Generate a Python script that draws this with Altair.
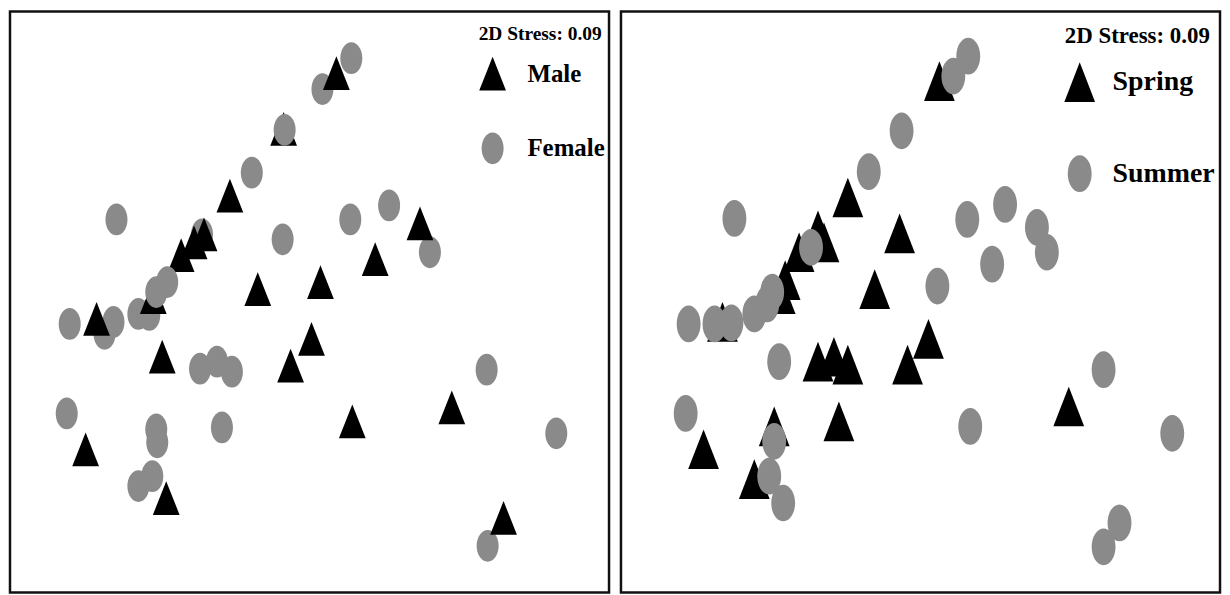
import altair as alt
import pandas as pd

# ---------------- data (NMDS coordinates) ----------------
# Left panel: sex
male_x = [3.30, 2.77, 2.23, 1.74, 1.87, 1.97, 4.14, 3.69, 3.14, 2.51,
          1.46, 0.89, 1.55, 3.05, 2.84, 0.78, 3.46, 4.46, 1.59, 4.98]
male_y = [5.22, 4.66, 3.99, 3.39, 3.52, 3.60, 3.71, 3.35, 3.12, 3.05,
          2.97, 2.75, 2.37, 2.55, 2.28, 1.44, 1.72, 1.86, 0.95, 0.75]
female_x = [3.45, 3.16, 2.78, 2.45, 1.09, 1.95, 2.76, 3.44, 3.83, 4.24,
            1.49, 1.60, 1.31, 1.42, 0.62, 1.06, 0.97, 1.93, 2.10, 2.25,
            4.81, 0.59, 1.49, 1.50, 2.15, 5.51, 1.31, 1.45, 4.82]
female_y = [5.37, 5.06, 4.65, 4.22, 3.75, 3.60, 3.55, 3.75, 3.89, 3.42,
            3.02, 3.12, 2.80, 2.79, 2.70, 2.72, 2.60, 2.25, 2.32, 2.22,
            2.24, 1.80, 1.64, 1.51, 1.66, 1.60, 1.07, 1.17, 0.47]

# Right panel: season
spring_x = [3.16, 2.24, 2.76, 2.51, 1.94, 2.00, 1.75, 1.61, 1.56, 0.98,
            1.94, 2.10, 2.24, 2.84, 3.05, 0.79, 1.50, 1.30, 2.15, 4.46]
spring_y = [5.15, 3.98, 3.62, 3.06, 3.65, 3.53, 3.43, 3.15, 3.01, 2.73,
            2.33, 2.38, 2.30, 2.30, 2.56, 1.45, 1.68, 1.15, 1.73, 1.88]
summer_x = [3.45, 3.30, 2.78, 2.45, 1.10, 3.44, 3.82, 4.14, 4.24, 3.69,
            3.14, 1.87, 1.48, 1.43, 1.30, 0.64, 0.90, 1.07, 1.55, 4.81,
            0.61, 1.50, 1.45, 1.59, 3.47, 5.50, 4.97, 4.81]
summer_y = [5.40, 5.20, 4.65, 4.24, 3.77, 3.76, 3.91, 3.68, 3.43, 3.31,
            3.09, 3.48, 3.03, 2.91, 2.81, 2.71, 2.71, 2.72, 2.33, 2.25,
            1.81, 1.53, 1.18, 0.91, 1.68, 1.61, 0.71, 0.47]

stress_label = "2D Stress: 0.09"
sex_groups = ["Male", "Female"]
season_groups = ["Spring", "Summer"]

FONT = "Liberation Serif"
W, H = 602, 584


def ellipse(rx, ry):
    return f"M{-rx},0 A{rx},{ry} 0 1,0 {rx},0 A{rx},{ry} 0 1,0 {-rx},0 Z"


def triangle(hw, hh):
    return f"M0,{-hh} L{hw},{hh} L{-hw},{hh} Z"


def build_df(tx, ty, cx, cy, groups, tri_z, cir_z, front=()):
    rows = []
    for x, y in zip(tx, ty):
        rows.append({"x": x, "y": y, "group": groups[0], "z": tri_z})
    for i, (x, y) in enumerate(zip(cx, cy)):
        rows.append({"x": x, "y": y, "group": groups[1],
                     "z": 2 if i in front else cir_z})
    return pd.DataFrame(rows)


def panel(df, groups, xdom, ydom, tri_path, cir_path, size, lx, ly, title_fs,
          label_fs, label_off, title_pad, row_pad):
    legend = alt.Legend(
        orient="none", legendX=lx, legendY=ly, padding=0,
        title=stress_label, titleFont=FONT, titleFontSize=title_fs,
        titleFontWeight="bold", titleColor="black", titlePadding=title_pad,
        labelFont=FONT, labelFontSize=label_fs, labelFontWeight="bold",
        labelColor="black", labelOffset=label_off, rowPadding=row_pad,
        symbolSize=size, symbolStrokeWidth=0, symbolOpacity=1,
        titleLimit=400, labelLimit=300,
    )
    return alt.Chart(df).mark_point(filled=True, opacity=1, strokeWidth=0).encode(
        x=alt.X("x:Q", scale=alt.Scale(domain=xdom, nice=False, zero=False), axis=None),
        y=alt.Y("y:Q", scale=alt.Scale(domain=ydom, nice=False, zero=False), axis=None),
        shape=alt.Shape("group:N", scale=alt.Scale(domain=groups, range=[tri_path, cir_path]),
                        legend=legend),
        color=alt.Color("group:N", scale=alt.Scale(domain=groups, range=["#000000", "#8a8a8a"]),
                        legend=legend),
        order=alt.Order("z:Q"),
        size=alt.value(size),
    ).properties(width=W, height=H)


left_df = build_df(male_x, male_y, female_x, female_y, sex_groups, 1, 0, front=(2, 10, 11))
right_df = build_df(spring_x, spring_y, summer_x, summer_y, season_groups, 0, 1)

left = panel(left_df, sex_groups, [0.02, 6.04], [0.0, 5.84],
             triangle(0.96, 1.21), ellipse(0.79, 1.14), 784,
             471, 14, 19.5, 25, 21, 15, 42)
right = panel(right_df, season_groups, [-0.04, 5.98], [0.01, 5.85],
              triangle(1.03, 1.33), ellipse(0.8, 1.23), 900,
              446, 14, 23, 28, 18, 19, 53)

chart = alt.hconcat(left, right, spacing=8, padding=0).resolve_scale(
    x="independent", y="independent", shape="independent", color="independent"
).resolve_legend(shape="independent", color="independent").configure_view(
    stroke="#111111", strokeWidth=2.5
)

chart.save("out.html", embed_options={"renderer": "svg", "actions": False})
